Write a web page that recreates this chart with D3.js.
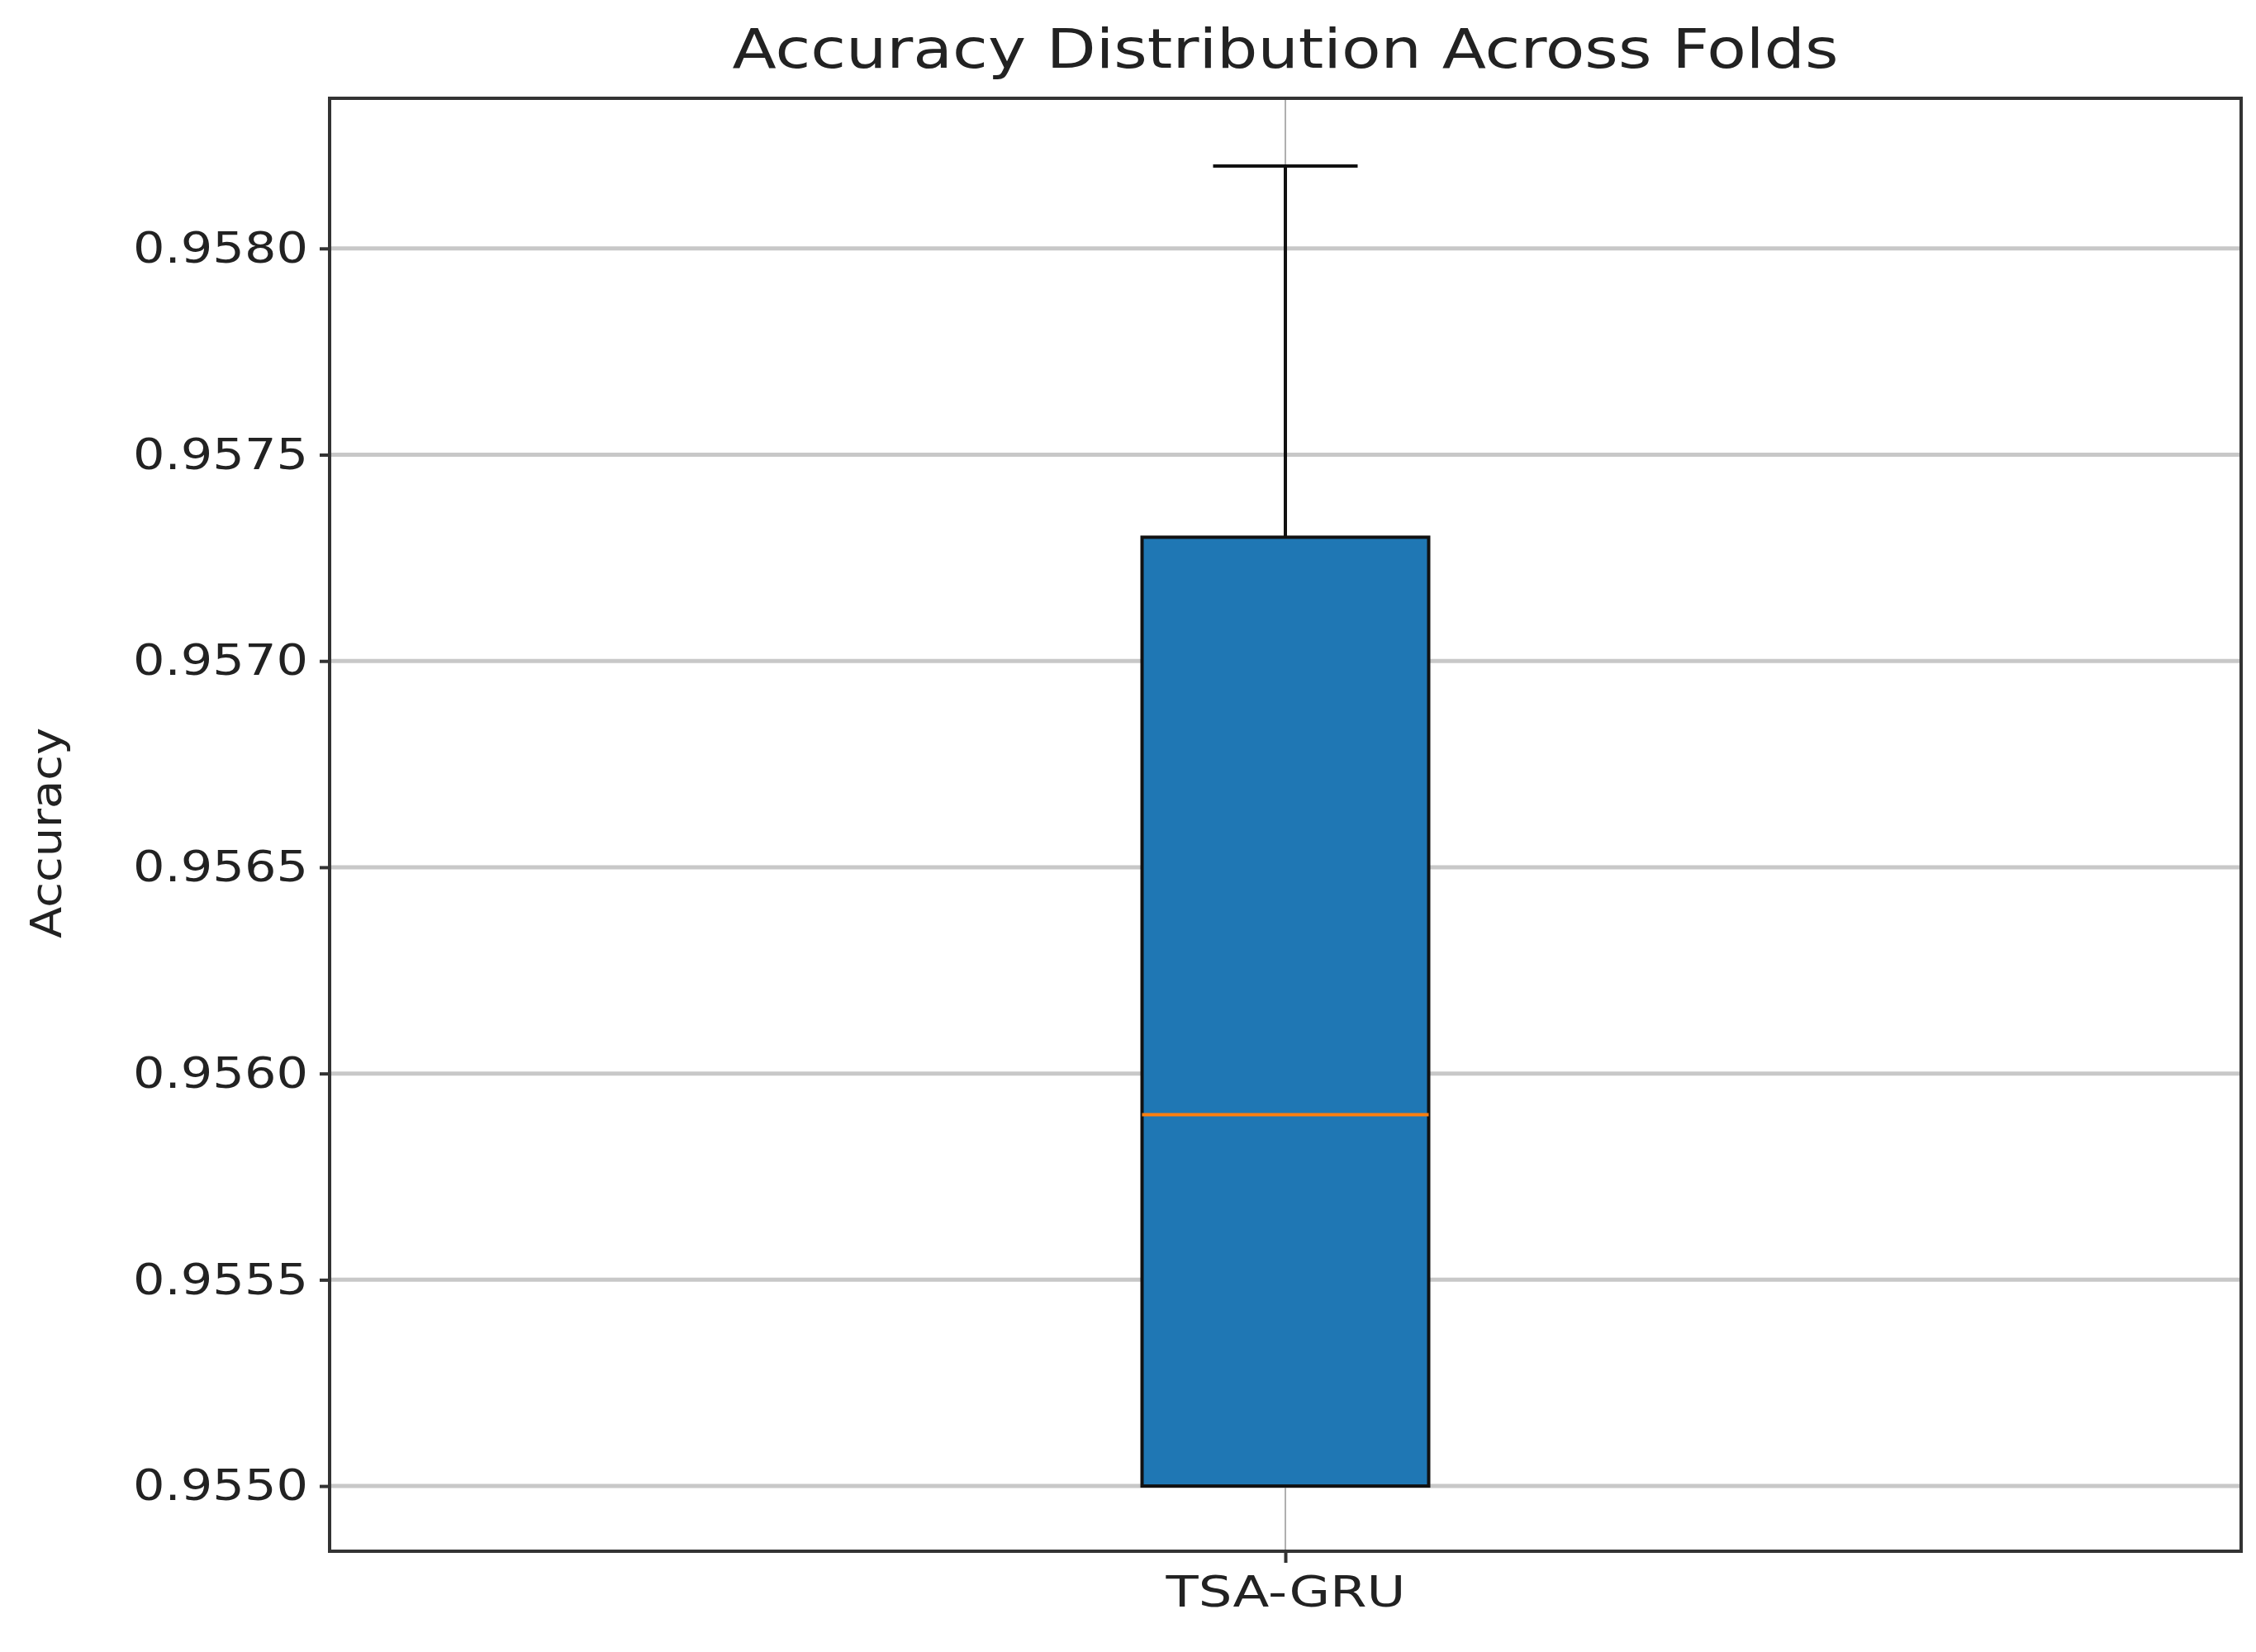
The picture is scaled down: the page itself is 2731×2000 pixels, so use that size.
<!DOCTYPE html><html><head><script src="https://cdn.jsdelivr.net/npm/d3@7"></script>
<style>body{margin:0;background:#fff}</style></head><body><svg id="c" width="2731" height="2000"></svg>
<script>
const categories=["TSA-GRU"];
const q1=[0.9550], median=[0.95590], q3=[0.9573], whiskerLow=[0.9550], whiskerHigh=[0.95820];
const yTicks=[0.9550,0.9555,0.9560,0.9565,0.9570,0.9575,0.9580];
const svg=d3.select("#c");
const L=399,R=2713,T=119,B=1878;
const y=d3.scaleLinear().domain([0.954842,0.958364]).range([B,T]);
const x=d3.scalePoint().domain(categories).range([L,R]).padding(0.5);
const font="DejaVu Sans";
svg.append("g").selectAll("line").data(yTicks).join("line").attr("x1",L).attr("x2",R)
 .attr("y1",d=>y(d)).attr("y2",d=>y(d)).attr("stroke","#c8c8c8").attr("stroke-width",5);
svg.append("g").selectAll("line").data(categories).join("line").attr("x1",d=>x(d)).attr("x2",d=>x(d))
 .attr("y1",T).attr("y2",B).attr("stroke","#b0b0b0").attr("stroke-width",2);
const bw=347, cw=175;
categories.forEach((c,i)=>{
 const cx=x(c);
 svg.append("line").attr("x1",cx).attr("x2",cx).attr("y1",y(q3[i])).attr("y2",y(whiskerHigh[i])).attr("stroke","#111").attr("stroke-width",4);
 svg.append("line").attr("x1",cx-cw/2).attr("x2",cx+cw/2).attr("y1",y(whiskerHigh[i])).attr("y2",y(whiskerHigh[i])).attr("stroke","#111").attr("stroke-width",4);
 svg.append("line").attr("x1",cx-cw/2).attr("x2",cx+cw/2).attr("y1",y(whiskerLow[i])).attr("y2",y(whiskerLow[i])).attr("stroke","#111").attr("stroke-width",4);
 svg.append("rect").attr("x",cx-bw/2).attr("width",bw).attr("y",y(q3[i])).attr("height",y(q1[i])-y(q3[i]))
  .attr("fill","#1f77b4").attr("stroke","#111").attr("stroke-width",4);
 svg.append("line").attr("x1",cx-bw/2).attr("x2",cx+bw/2).attr("y1",y(median[i])).attr("y2",y(median[i])).attr("stroke","#ff7f0e").attr("stroke-width",4);
});
const ya=svg.append("g").attr("transform",`translate(${L},0)`).call(d3.axisLeft(y).tickValues(yTicks).tickFormat(d3.format(".4f")).tickSize(12).tickPadding(14));
const xa=svg.append("g").attr("transform",`translate(0,${B})`).call(d3.axisBottom(x).tickSize(14).tickPadding(16));
[ya,xa].forEach(a=>{a.select(".domain").remove();a.selectAll("line").attr("stroke","#333").attr("stroke-width",4);
 a.selectAll("text").attr("font-family",font).attr("font-size",52).attr("fill","#222").attr("lengthAdjust","spacingAndGlyphs");});
ya.selectAll("text").attr("textLength",212);
xa.selectAll("text").attr("textLength",290);
svg.append("rect").attr("x",L).attr("y",T).attr("width",R-L).attr("height",B-T).attr("fill","none").attr("stroke","#333").attr("stroke-width",4);
svg.append("text").attr("x",(L+R)/2).attr("y",82).attr("text-anchor","middle").attr("font-family",font).attr("font-size",66).attr("fill","#222")
 .attr("textLength",1339).attr("lengthAdjust","spacingAndGlyphs").text("Accuracy Distribution Across Folds");
svg.append("text").attr("transform",`translate(74,${(T+B)/2+10}) rotate(-90)`).attr("text-anchor","middle").attr("font-family",font).attr("font-size",52).attr("fill","#222")
 .attr("textLength",255).attr("lengthAdjust","spacingAndGlyphs").text("Accuracy");
</script></body></html>
